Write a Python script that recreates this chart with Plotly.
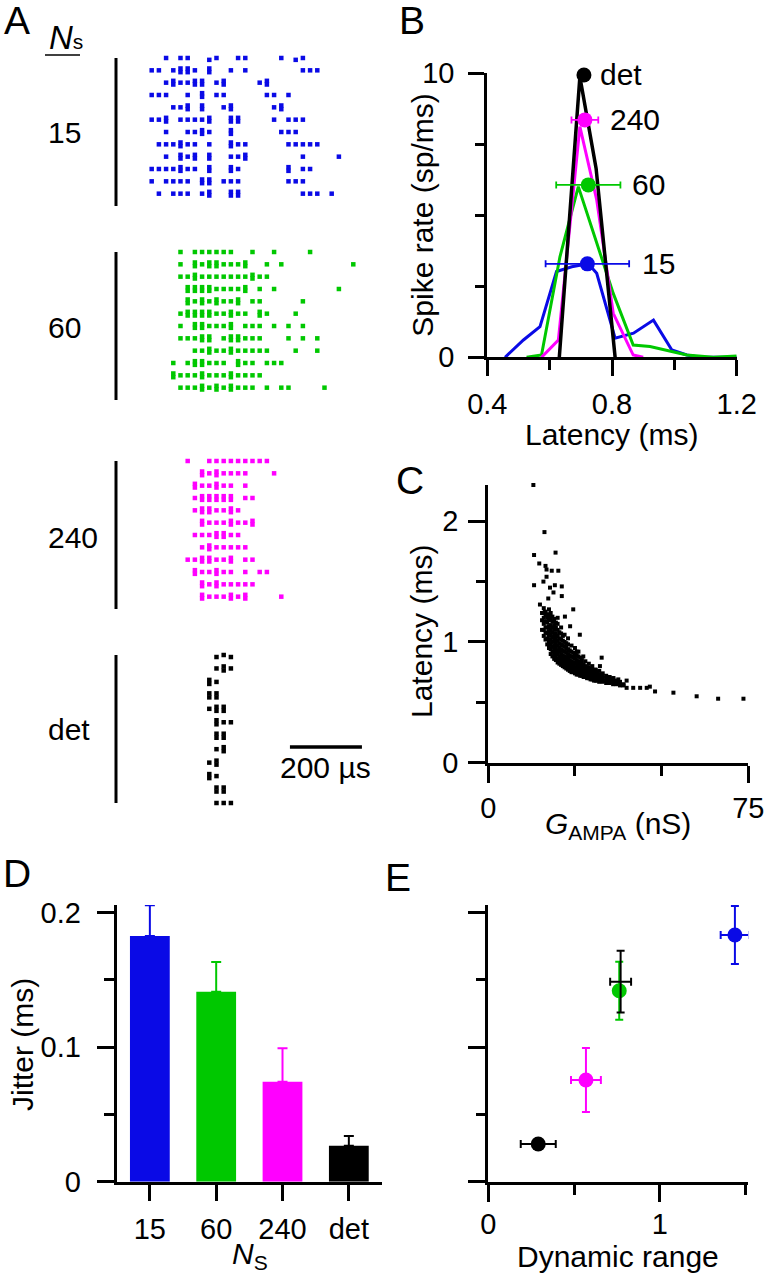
import plotly.graph_objects as go

W, H = 765, 1280


def fx(px):
    return px / W


def fy(py):
    return 1 - py / H


BLUE = "#0A0AE6"
GREEN = "#00C800"
MAGENTA = "#FF00FF"
BLACK = "#000000"
FONT = "Liberation Sans, Arial, sans-serif"

# ---------------- Panel A: spike rasters (bin index, 20 us bins from 500 us) ----------
A_T0_US = 500
A_BIN_US = 20
A_XRANGE_US = [356.4, 1134.2]
A_15 = [
    [2, 4, 5, 8, 8, 9, 12, 13, 18, 20, 20, 21],
    [0, 1, 3, 4, 4, 5, 5, 6, 8, 8, 11, 13, 21, 22, 23],
    [2, 3, 3, 4, 5, 6, 6, 7, 7, 9, 10, 10, 15, 16, 16],
    [0, 1, 2, 5, 7, 7, 9, 10, 16, 17, 19],
    [3, 4, 5, 5, 7, 7, 10, 11, 11, 17, 18, 18],
    [0, 1, 2, 2, 4, 5, 6, 7, 8, 8, 11, 11, 12, 12, 17, 19, 20, 21],
    [2, 5, 6, 7, 7, 8, 11, 11, 18, 19, 20],
    [1, 2, 3, 4, 4, 5, 6, 8, 11, 11, 12, 13, 19, 20, 21, 22, 23],
    [2, 4, 4, 5, 6, 6, 8, 8, 11, 12, 13, 13, 21, 26],
    [0, 1, 2, 3, 4, 4, 5, 6, 8, 8, 11, 11, 12, 19, 19, 21, 22],
    [0, 2, 3, 4, 5, 7, 7, 8, 8, 10, 11, 12, 19, 20, 21],
    [1, 3, 4, 5, 7, 8, 8, 11, 11, 12, 12, 21, 22, 23, 25],
]
A_60 = [
    [4, 6, 7, 8, 9, 10, 11, 14, 17, 22],
    [4, 6, 6, 7, 8, 8, 9, 9, 10, 11, 12, 13, 13, 16, 18, 28],
    [4, 5, 6, 6, 7, 8, 9, 10, 11, 12, 13, 14, 14, 15, 16],
    [5, 5, 6, 6, 7, 7, 8, 8, 9, 10, 11, 12, 13, 13, 15, 17, 26],
    [5, 5, 6, 7, 7, 8, 9, 9, 10, 11, 12, 12, 14, 15, 21],
    [4, 5, 5, 6, 6, 7, 7, 8, 8, 9, 10, 11, 11, 12, 13, 15, 15, 16, 20],
    [4, 6, 6, 7, 7, 8, 9, 10, 11, 11, 13, 14, 15, 17, 19, 21],
    [4, 5, 6, 7, 7, 8, 8, 10, 11, 11, 12, 12, 13, 14, 15, 19, 21, 23],
    [6, 7, 8, 8, 9, 10, 11, 11, 12, 13, 14, 15, 16, 20, 23],
    [3, 5, 6, 6, 7, 7, 8, 9, 10, 12, 12, 13, 14, 16, 17, 18],
    [3, 3, 4, 5, 6, 7, 7, 8, 9, 10, 11, 11, 12, 13, 14, 15],
    [4, 5, 6, 7, 7, 8, 9, 9, 10, 11, 11, 12, 13, 14, 16, 18, 19, 24],
]
A_240 = [
    [5, 8, 9, 10, 11, 12, 13, 14, 15, 16],
    [7, 7, 8, 9, 9, 10, 11, 12, 13, 17],
    [6, 6, 7, 8, 9, 9, 10, 11, 13],
    [6, 7, 7, 8, 8, 9, 9, 10, 10, 11, 11, 13, 14],
    [6, 7, 7, 8, 8, 9, 10, 11, 11, 12],
    [7, 7, 8, 9, 10, 11, 11, 12, 13, 14, 14],
    [6, 7, 8, 9, 9, 10, 10, 11, 12],
    [7, 8, 8, 9, 10, 11, 12, 13],
    [5, 6, 7, 7, 8, 8, 9, 10, 11, 11, 13, 14],
    [6, 6, 7, 8, 9, 9, 10, 11, 13, 15, 16],
    [7, 7, 8, 9, 9, 10, 11, 12, 13, 14],
    [7, 7, 8, 9, 10, 11, 11, 12, 13, 13, 18],
]
A_DET = [
    [9, 9, 10, 11, 11],
    [9, 10, 10, 11],
    [8, 8, 9],
    [8, 8, 9, 9],
    [8, 9, 9, 10, 10],
    [9, 9, 10, 11],
    [9, 9, 10, 10],
    [9, 10, 10],
    [8, 9, 9],
    [8, 8, 9],
    [9, 9, 10, 10],
    [9, 10, 11],
]
A_LABELS = ["15", "60", "240", "det"]
A_SCALE_US = 200

# ---------------- Panel B: latency histograms ----------------
B_15_lat = [0.457, 0.516, 0.569, 0.622, 0.671, 0.724, 0.751, 0.810, 0.869, 0.933, 0.992, 1.040, 1.082, 1.2]
B_15_rate = [0, 0.61, 1.08, 3.02, 3.19, 3.29, 2.96, 0.67, 0.85, 1.31, 0.26, 0.08, 0, 0]
B_60_lat = [0.526, 0.574, 0.633, 0.692, 0.804, 0.868, 0.922, 0.991, 1.04, 1.125, 1.2]
B_60_rate = [0, 0.08, 3.54, 6.01, 2.25, 0.43, 0.38, 0.2, 0.08, 0, 0.05]
B_240_lat = [0.574, 0.628, 0.697, 0.751, 0.804, 0.868, 0.9]
B_240_rate = [0, 0.61, 8.12, 5.54, 1.55, 0.08, 0]
B_det_lat = [0.631, 0.697, 0.749, 0.810]
B_det_rate = [0, 9.88, 6.65, 0]
B_mean_lat = [0.721, 0.724, 0.713, 0.710]
B_mean_rate = [3.29, 6.07, 8.36, 9.94]
B_mean_err = [0.134, 0.103, 0.043, 0.0]
B_label_lat = [0.890, 0.858, 0.788, 0.756]

# ---------------- Panel C: latency vs G_AMPA ----------------
C_out_G = [13.0, 16.2, 13.2, 19.4, 14.7, 16.5, 16.8, 18.3, 20.2, 13.2, 15.9, 16.8, 17.8, 19.2,
           21.2, 14.9, 17.3, 18.8, 21.2, 24.5, 16.3, 22.1, 26.4, 23.6, 25.5, 27.4, 32.7, 32.2,
           30.8, 36.1, 37.5, 39.9, 39.9, 41.8, 43.8, 45.7, 46.6, 48.1, 53.4, 60.1, 66.3, 73.6]
C_out_L = [2.30, 1.91, 1.72, 1.74, 1.65, 1.63, 1.60, 1.59, 1.59, 1.47, 1.50, 1.54, 1.45, 1.47,
           1.46, 1.31, 1.36, 1.41, 1.38, 1.27, 1.25, 1.21, 1.06, 1.13, 0.92, 0.88, 0.87, 0.80,
           0.77, 0.70, 0.69, 0.68, 0.62, 0.62, 0.62, 0.62, 0.63, 0.59, 0.58, 0.55, 0.53, 0.53]
C_core = [
    (15.5, [1.10, 1.18, 1.24]),
    (16.0, [1.05, 1.10, 1.15, 1.20, 1.24, 1.28]),
    (16.5, [1.02, 1.08, 1.12, 1.17, 1.22, 1.25]),
    (17.0, [0.98, 1.03, 1.07, 1.12, 1.16, 1.20, 1.23]),
    (17.5, [0.95, 1.00, 1.05, 1.09, 1.13, 1.18, 1.22, 1.27]),
    (18.0, [0.90, 0.94, 0.98, 1.02, 1.06, 1.10, 1.14, 1.19, 1.24]),
    (18.5, [0.88, 0.92, 0.96, 1.00, 1.04, 1.08, 1.12, 1.17, 1.21]),
    (19.0, [0.86, 0.90, 0.94, 0.97, 1.01, 1.05, 1.10, 1.14, 1.19]),
    (19.5, [0.85, 0.88, 0.92, 0.95, 0.99, 1.03, 1.07, 1.12, 1.16]),
    (20.0, [0.83, 0.86, 0.90, 0.93, 0.97, 1.01, 1.05, 1.10, 1.15, 1.20]),
    (20.5, [0.82, 0.85, 0.88, 0.92, 0.95, 0.99, 1.03, 1.08]),
    (21.0, [0.81, 0.84, 0.87, 0.90, 0.94, 0.98, 1.02, 1.07, 1.12]),
    (21.5, [0.80, 0.83, 0.86, 0.89, 0.93, 0.97, 1.01, 1.05]),
    (22.0, [0.79, 0.82, 0.85, 0.88, 0.92, 0.96, 1.00, 1.06]),
    (22.5, [0.78, 0.81, 0.84, 0.87, 0.91, 0.95, 0.99]),
    (23.0, [0.77, 0.80, 0.83, 0.86, 0.90, 0.94, 0.98, 1.03]),
    (23.5, [0.76, 0.79, 0.82, 0.85, 0.89, 0.93]),
    (24.0, [0.75, 0.78, 0.81, 0.84, 0.88, 0.92, 0.97]),
    (24.5, [0.75, 0.77, 0.80, 0.83, 0.87, 0.91]),
    (25.0, [0.74, 0.77, 0.79, 0.82, 0.86, 0.90, 0.95]),
    (25.5, [0.73, 0.76, 0.79, 0.82, 0.85, 0.89]),
    (26.0, [0.73, 0.75, 0.78, 0.81, 0.84, 0.88, 0.92]),
    (26.5, [0.72, 0.75, 0.77, 0.80, 0.83, 0.87]),
    (27.0, [0.72, 0.74, 0.76, 0.79, 0.82, 0.85]),
    (27.5, [0.71, 0.73, 0.76, 0.78, 0.81]),
    (28.0, [0.71, 0.73, 0.75, 0.78, 0.80, 0.84]),
    (28.5, [0.70, 0.72, 0.74, 0.77, 0.79]),
    (29.0, [0.70, 0.72, 0.74, 0.76, 0.79, 0.82]),
    (29.5, [0.69, 0.71, 0.73, 0.76, 0.78]),
    (30.0, [0.69, 0.71, 0.73, 0.75, 0.77, 0.80]),
    (30.5, [0.68, 0.70, 0.72, 0.74, 0.76]),
    (31.0, [0.68, 0.70, 0.72, 0.74, 0.77]),
    (31.5, [0.68, 0.69, 0.71, 0.73, 0.75]),
    (32.0, [0.67, 0.69, 0.71, 0.73, 0.76]),
    (33.0, [0.67, 0.68, 0.70, 0.72, 0.74]),
    (34.0, [0.66, 0.68, 0.70, 0.72]),
    (35.0, [0.66, 0.67, 0.69, 0.71]),
    (36.0, [0.65, 0.67, 0.69, 0.70]),
    (37.0, [0.65, 0.66, 0.68]),
    (38.0, [0.64, 0.66, 0.67]),
    (39.0, [0.64, 0.65]),
]

# ---------------- Panel D: jitter bars ----------------
D_cats = ["15", "60", "240", "det"]
D_jitter = [0.1826, 0.1413, 0.0743, 0.0268]
D_err = [0.023, 0.022, 0.025, 0.0072]
D_colors = [BLUE, GREEN, MAGENTA, BLACK]

# ---------------- Panel E: jitter vs dynamic range ----------------
E_dr = [1.437, 0.763, 0.569, 0.291]
E_dr_err = [0.083, 0.010, 0.087, 0.102]
E_jit = [0.1834, 0.142, 0.0756, 0.028]
E_jit_err = [0.0216, 0.0216, 0.0238, 0.0]
E_extra_dr = [0.771]
E_extra_dr_err = [0.061]
E_extra_jit = [0.1487]
E_extra_jit_err = [0.023]

fig = go.Figure()

# ---------- Panel A traces ----------
A_groups = [(A_15, BLUE, ""), (A_60, GREEN, "2"), (A_240, MAGENTA, "3"), (A_DET, BLACK, "4")]
for rows, col, sfx in A_groups:
    xs, ys = [], []
    for r, row in enumerate(rows, start=1):
        counts = {}
        for c in row:
            counts[c] = counts.get(c, 0) + 1
        seen = {}
        for c in row:
            n = counts[c]
            k = seen.get(c, 0)
            seen[c] = k + 1
            xs.append(A_T0_US + A_BIN_US * c)
            ys.append(r + 0.3 * k - 0.15 * (n - 1))
    fig.add_trace(go.Scatter(x=xs, y=ys, mode="markers", xaxis="x" + sfx, yaxis="y" + sfx,
                             marker=dict(symbol="square", size=4.5, color=col, line_width=0),
                             cliponaxis=False, hoverinfo="skip"))

# ---------- Panel B traces ----------
for lat, rate, col, lw in [(B_15_lat, B_15_rate, BLUE, 3), (B_60_lat, B_60_rate, GREEN, 3),
                           (B_240_lat, B_240_rate, MAGENTA, 3), (B_det_lat, B_det_rate, BLACK, 3.5)]:
    fig.add_trace(go.Scatter(x=lat, y=rate, mode="lines", xaxis="x5", yaxis="y5",
                             line=dict(color=col, width=lw), cliponaxis=False, hoverinfo="skip"))
for i, col in enumerate([BLUE, GREEN, MAGENTA, BLACK]):
    fig.add_trace(go.Scatter(x=[B_mean_lat[i]], y=[B_mean_rate[i]], mode="markers",
                             xaxis="x5", yaxis="y5", cliponaxis=False,
                             marker=dict(size=15, color=col, line_width=0),
                             error_x=dict(type="data", array=[B_mean_err[i]], color=col,
                                          thickness=1.8, width=3.5, visible=B_mean_err[i] > 0),
                             hoverinfo="skip"))

# ---------- Panel C traces ----------
cg, cl = [], []
for g, lats in C_core:
    for v in lats:
        cg.append(g)
        cl.append(v)
fig.add_trace(go.Scatter(x=C_out_G + cg, y=C_out_L + cl, mode="markers", xaxis="x6", yaxis="y6",
                         marker=dict(symbol="square", size=4, color=BLACK, line_width=0),
                         cliponaxis=False, hoverinfo="skip"))

# ---------- Panel D traces ----------
for i, cat in enumerate(D_cats):
    fig.add_trace(go.Bar(x=[cat], y=[D_jitter[i]], xaxis="x7", yaxis="y7", width=0.6,
                         marker=dict(color=D_colors[i], line_width=0),
                         error_y=dict(type="data", array=[D_err[i]], arrayminus=[0], symmetric=False,
                                      color=D_colors[i], thickness=2, width=5),
                         hoverinfo="skip"))

# ---------- Panel E traces ----------
for i, col in enumerate([BLUE, GREEN, MAGENTA, BLACK]):
    fig.add_trace(go.Scatter(x=[E_dr[i]], y=[E_jit[i]], mode="markers", xaxis="x8", yaxis="y8",
                             cliponaxis=False, marker=dict(size=15, color=col, line_width=0),
                             error_x=dict(type="data", array=[E_dr_err[i]], color=col, thickness=2, width=4),
                             error_y=dict(type="data", array=[E_jit_err[i]], color=col, thickness=2, width=4,
                                          visible=E_jit_err[i] > 0),
                             hoverinfo="skip"))
fig.add_trace(go.Scatter(x=E_extra_dr, y=E_extra_jit, mode="markers", xaxis="x8", yaxis="y8",
                         cliponaxis=False, marker=dict(size=2, color="rgba(0,0,0,0)"),
                         error_x=dict(type="data", array=E_extra_dr_err, color=BLACK, thickness=2, width=4),
                         error_y=dict(type="data", array=E_extra_jit_err, color=BLACK, thickness=2, width=4),
                         hoverinfo="skip"))


def axis(dom, rng, anchor, **kw):
    d = dict(domain=dom, range=rng, anchor=anchor, showline=True, linewidth=3, linecolor="black",
             ticks="outside", tickwidth=3, tickcolor="black", showgrid=False, zeroline=False,
             tickfont=dict(size=29, color="black", family=FONT), fixedrange=True, tickmode="array",
             automargin=False)
    d.update(kw)
    return d


def minor(vals, ln):
    return dict(tickmode="array", tickvals=vals, ticklen=ln, tickwidth=3, tickcolor="black",
                ticks="outside", showgrid=False)


layout = dict(width=W, height=H, margin=dict(l=0, r=0, t=0, b=0, pad=0, autoexpand=False), autosize=False,
              paper_bgcolor="white", plot_bgcolor="white", showlegend=False, barmode="overlay",
              font=dict(family=FONT, size=29, color="black"))

A_doms = [(58, 206, [13, 1]), (252, 400, [13, 1]), (461, 609, [13, 1]), (655, 803, [12, 1])]
for (top, bot, yr), sfx in zip(A_doms, ["", "2", "3", "4"]):
    layout["xaxis" + sfx] = dict(domain=[fx(100), fx(380)], range=A_XRANGE_US, anchor="y" + sfx,
                                 visible=False, fixedrange=True, automargin=False)
    layout["yaxis" + sfx] = dict(domain=[fy(bot), fy(top)], range=yr, anchor="x" + sfx,
                                 visible=False, fixedrange=True, automargin=False)

layout["xaxis5"] = axis([fx(487.3), fx(736.7)], [0.4, 1.2], "y5", tickvals=[0.4, 0.8, 1.2],
                        ticktext=["0.4", "0.8", "1.2"], ticklen=16, minor=minor([0.6, 1.0], 10),
                        ticklabelstandoff=3)
layout["yaxis5"] = axis([fy(357.3), fy(73.3)], [0, 10], "x5", tickvals=[0, 10], ticktext=["0", "10"],
                        ticklen=16, minor=minor([2.5, 5, 7.5], 9), ticklabelstandoff=8)
layout["xaxis6"] = axis([fx(488.3), fx(748.3)], [0, 75], "y6", tickvals=[0, 75], ticktext=["0", "75"],
                        ticklen=17, minor=minor([25, 50], 10), ticklabelstandoff=0)
layout["yaxis6"] = axis([fy(762.7), fy(485)], [0, 2.3], "x6", tickvals=[0, 1, 2], ticktext=["0", "1", "2"],
                        ticklen=17, minor=minor([0.5, 1.5], 9), ticklabelstandoff=4)
layout["xaxis7"] = axis([fx(116.7), fx(382)], [-0.5, 3.5], "y7", type="category",
                        categoryorder="array", categoryarray=D_cats, tickvals=D_cats, ticktext=D_cats,
                        ticklen=16, ticklabelstandoff=3)
layout["yaxis7"] = axis([fy(1181.7), fy(905)], [0, 0.2057], "x7", tickvals=[0, 0.1, 0.2],
                        ticktext=["0", "0.1", "0.2"], ticklen=17, minor=minor([0.05, 0.15], 10),
                        ticklabelstandoff=10)
layout["xaxis8"] = axis([fx(488.3), fx(748.3)], [0, 1.515], "y8", tickvals=[0, 1], ticktext=["0", "1"],
                        ticklen=17, minor=minor([0.5, 1.5], 10), ticklabelstandoff=-3)
layout["yaxis8"] = axis([fy(1181.7), fy(905)], [0, 0.2057], "x8", tickvals=[0, 0.1, 0.2],
                        ticktext=["0", "0.1", "0.2"], showticklabels=False, ticklen=17,
                        minor=minor([0.05, 0.15], 9))

shapes = []
for sfx in ["", "2", "3", "4"]:
    shapes.append(dict(type="line", xref="paper", yref=("y" + sfx + " domain"), x0=fx(116), x1=fx(116),
                       y0=0, y1=1, line=dict(color="black", width=3)))
scale_x0 = 884
shapes.append(dict(type="line", xref="x4", yref="paper", x0=scale_x0, x1=scale_x0 + A_SCALE_US,
                   y0=fy(747), y1=fy(747), line=dict(color="black", width=3.5)))
shapes.append(dict(type="line", xref="paper", yref="paper", x0=fx(45), x1=fx(80), y0=fy(55), y1=fy(55),
                   line=dict(color="black", width=1.5)))

ann = []


def text(px, py, s, size=30, xanchor="center", angle=0, **kw):
    ann.append(dict(x=fx(px), y=fy(py), xref="paper", yref="paper", text=s, showarrow=False,
                    xanchor=xanchor, yanchor="middle", textangle=angle,
                    font=dict(size=size, color="black", family=FONT), **kw))


for lab, py in zip(A_LABELS, [132, 327, 537, 729]):
    text(46, py, lab, size=30, xanchor="left")
text(47, 37, "<i>N</i><span style='font-size:21px'>s</span>", size=33, xanchor="left")
ann.append(dict(x=scale_x0 + A_SCALE_US / 2, y=fy(767), xref="x4", yref="paper", text="200 µs",
                showarrow=False, xanchor="center", yanchor="middle",
                font=dict(size=30, color="black", family=FONT)))
for i, lab in enumerate(["15", "60", "240", "det"]):
    ann.append(dict(x=B_label_lat[i], y=B_mean_rate[i], xref="x5", yref="y5", text=lab, showarrow=False,
                    xanchor="left", yanchor="middle", font=dict(size=30, color="black", family=FONT)))

# panel letters
text(17, 20, "A", size=39)
text(412, 20, "B", size=39)
text(410, 481, "C", size=39)
text(17, 873, "D", size=39)
text(398, 877, "E", size=39)

# axis titles
text(421.7, 215, "Spike rate (sp/ms)", angle=-90)
text(611, 434, "Latency (ms)")
text(421, 632, "Latency (ms)", angle=-90)
text(618, 825, "<i>G</i><sub>AMPA</sub> (nS)")
text(22, 1045, "Jitter (ms)", angle=-90)
text(250, 1255, "<i>N</i><sub>S</sub>")
text(617.5, 1256, "Dynamic range")

layout["shapes"] = shapes
layout["annotations"] = ann
fig.update_layout(**layout)

fig.write_html("out.html", config={"displayModeBar": False, "staticPlot": True},
               post_script="document.body.style.margin='0px';document.body.style.overflow='hidden';")
